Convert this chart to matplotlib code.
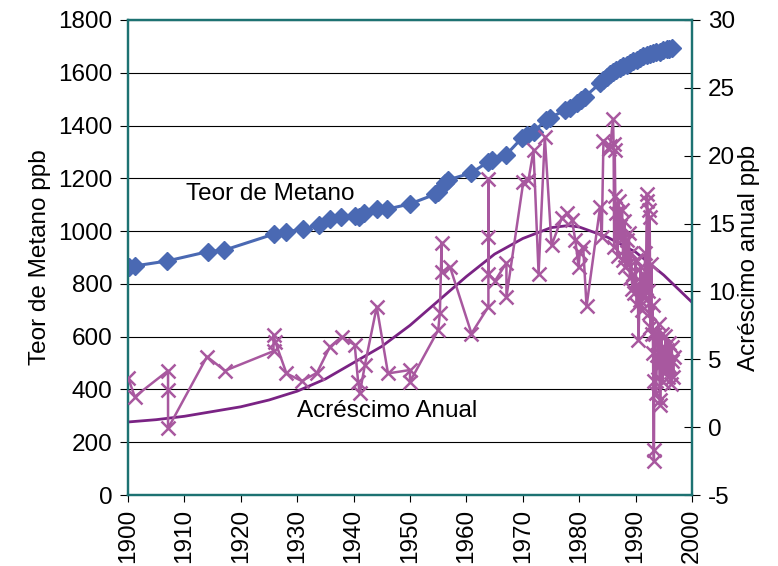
import matplotlib
matplotlib.use("Agg")
import matplotlib.pyplot as plt

plt.rcParams['font.family'] = ['Liberation Sans', 'DejaVu Sans']
plt.rcParams['axes.unicode_minus'] = False

# Methane concentration (ppb), left axis
methane_year = [1900.2, 1901.2, 1907.0, 1914.1, 1917.1, 1925.9, 1928.1, 1931.0, 1933.9,
                1935.8, 1937.8, 1940.2, 1941.0, 1941.9, 1944.1, 1945.9, 1950.0, 1954.5,
                1955.0, 1956.2, 1956.8, 1960.9, 1963.9, 1964.5, 1967.0, 1969.8, 1970.8,
                1971.9, 1974.2, 1974.9, 1977.5, 1978.3, 1979.6, 1980.3, 1981.0, 1983.7,
                1984.3, 1984.9, 1985.5, 1986.0, 1986.6, 1987.2, 1987.8, 1988.4, 1989.0,
                1989.6, 1990.2, 1990.8, 1991.4, 1992.0, 1992.6, 1993.1, 1993.7, 1994.3,
                1994.9, 1995.5, 1996.0, 1996.4]
methane_ppb = [865, 868, 887, 922, 928, 989, 998, 1007, 1023,
               1046, 1052, 1058, 1055, 1067, 1083, 1083, 1103, 1140,
               1150, 1181, 1194, 1221, 1263, 1269, 1288, 1352, 1365,
               1377, 1421, 1430, 1459, 1468, 1484, 1497, 1509, 1560,
               1574, 1585, 1596, 1604, 1611, 1617, 1624, 1630, 1636,
               1643, 1649, 1655, 1662, 1667, 1671, 1674, 1677, 1680,
               1685, 1689, 1691, 1693]

# Annual increase (ppb/yr), right axis
growth_year = [1900.05, 1901.2, 1907.1, 1907.1, 1907.1, 1914.0, 1917.2, 1925.8, 1925.8,
               1926.1, 1928.1, 1930.8, 1933.5, 1935.8, 1937.9, 1940.2, 1940.8, 1941.1,
               1942.0, 1944.1, 1946.1, 1950.0, 1950.0, 1955.0, 1955.3, 1955.6, 1955.6,
               1957.1, 1960.9, 1963.9, 1963.9, 1963.9, 1963.9, 1965.1, 1967.1, 1967.1,
               1970.1, 1971.0, 1971.9, 1972.8, 1973.9, 1975.1, 1976.9, 1977.8, 1978.7,
               1979.3, 1979.9, 1980.1, 1980.7, 1981.3, 1983.7, 1984.0, 1984.3, 1985.2,
               1985.5, 1986.0, 1986.1, 1986.2, 1986.3, 1986.4, 1986.6, 1986.8, 1987.0,
               1987.2, 1987.4, 1987.6, 1987.8, 1988.0, 1988.2, 1988.4, 1988.6, 1988.8,
               1989.0, 1989.2, 1989.4, 1989.6, 1989.8, 1990.0, 1990.2, 1990.4, 1990.5,
               1990.7, 1990.9, 1991.1, 1991.3, 1991.5, 1991.7, 1991.8, 1992.0, 1992.1,
               1992.2, 1992.3, 1992.4, 1992.5, 1992.6, 1992.8, 1992.9, 1993.0, 1993.1,
               1993.2, 1993.25, 1993.3, 1993.5, 1993.6, 1993.8, 1994.0, 1994.1, 1994.3,
               1994.4, 1994.6, 1994.8, 1994.9, 1995.1, 1995.3, 1995.5, 1995.7, 1995.9,
               1996.0, 1996.2, 1996.4, 1996.5, 1996.7, 1996.8]
growth_ppb = [3.6, 2.24, 4.16, 2.73, -0.09, 5.19, 4.16, 5.6, 6.8,
              6.3, 3.96, 3.4, 4.0, 5.92, 6.66, 6.05, 3.35, 2.49,
              4.58, 8.87, 3.96, 4.21, 3.35, 7.15, 8.39, 13.6, 11.45,
              11.8, 6.9, 8.87, 18.3, 14.0, 11.3, 10.8, 12.1, 9.6,
              18.1, 18.2, 20.4, 11.3, 21.4, 13.4, 15.4, 15.75, 15.3,
              13.8, 11.8, 12.8, 13.3, 8.9, 16.2, 14.0, 21.1, 20.5,
              20.7, 22.7, 20.9, 13.3, 20.4, 17.0, 15.8, 12.6, 16.7,
              14.8, 13.8, 16.0, 12.3, 15.2, 11.8, 13.8, 12.0, 14.3,
              11.0, 12.8, 10.2, 11.3, 9.9, 12.3, 9.0, 10.5, 6.4,
              9.4, 11.8, 8.6, 11.3, 9.8, 12.8, 9.4, 17.2, 16.7,
              10.0, 16.0, 8.4, 15.5, 7.4, 12.0, 6.9, 9.0, 5.5,
              -1.7, -2.5, 3.4, 6.9, 2.5, 5.3, 4.4, 7.6, 2.0,
              1.6, 6.9, 3.3, 5.7, 4.0, 6.7, 5.7, 3.7, 6.2,
              4.5, 3.2, 5.9, 4.9, 3.7, 5.2]

# Smoothed trend of the annual increase
trend_year = [1900, 1905, 1910, 1915, 1920, 1925, 1930, 1935, 1940, 1945, 1950,
              1955, 1960, 1965, 1970, 1975, 1978, 1980, 1985, 1990, 1995, 2000]
trend_ppb = [0.38, 0.55, 0.8, 1.15, 1.5, 2.0, 2.65, 3.55, 4.75, 5.95, 7.5,
             9.3, 11.1, 12.75, 13.9, 14.7, 14.85, 14.75, 14.0, 12.9, 11.2, 9.2]

left_ticks = [0, 200, 400, 600, 800, 1000, 1200, 1400, 1600, 1800]
right_ticks = [-5, 0, 5, 10, 15, 20, 25, 30]
year_ticks = list(range(1900, 2001, 10))

BLUE = '#4a69b3'
MAGENTA = '#a8589f'
TREND = '#7a2384'
SPINE = '#1d7272'
FS = 17.5

fig = plt.figure(figsize=(7.78, 5.66), dpi=100)
ax = fig.add_axes([128 / 778, 1 - 495 / 566, (692 - 128) / 778, (495 - 20) / 566])
ax2 = ax.twinx()

ax.plot(methane_year, methane_ppb, color=BLUE, lw=2.2, marker='D', ms=9.5,
        mec=BLUE, mfc=BLUE, zorder=3)
ax.set_xlim(1900, 2000)
ax.set_ylim(0, 1800)
ax.set_yticks(left_ticks)
ax.set_xticks(year_ticks)
ax.set_xticklabels([str(y) for y in year_ticks], rotation=90)
ax.yaxis.grid(True, color='black', linewidth=0.8)
ax.set_axisbelow(True)
ax.tick_params(axis='y', direction='out', length=6, width=0.8, labelsize=FS, pad=5)
ax.tick_params(axis='x', direction='out', length=5, width=0.8, labelsize=FS, pad=5)
ax.set_ylabel('Teor de Metano ppb', fontsize=FS, labelpad=5)

ax2.plot(trend_year, trend_ppb, color=TREND, lw=2, zorder=2)
ax2.plot(growth_year, growth_ppb, color=MAGENTA, lw=1.8, marker='x', ms=10.5,
         mew=1.8, zorder=3)
ax2.set_ylim(-5, 30)
ax2.set_yticks(right_ticks)
ax2.tick_params(axis='y', direction='inout', length=11, width=0.8, labelsize=FS, pad=6)
ax2.set_ylabel('Acréscimo anual ppb', fontsize=FS, labelpad=2)

for a in (ax, ax2):
    for s in a.spines.values():
        s.set_color(SPINE)
        s.set_linewidth(1.6)

ax.text(1910.3, 1140, 'Teor de Metano', fontsize=FS, va='center', ha='left')
ax2.text(1929.9, 1.2, 'Acréscimo Anual', fontsize=FS, va='center', ha='left')

fig.savefig('out.png', dpi=100)
